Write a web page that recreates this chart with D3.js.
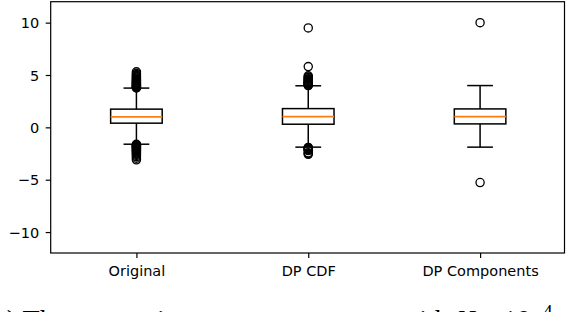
<!DOCTYPE html>
<html>
<head>
<meta charset="utf-8">
<script src="https://cdn.jsdelivr.net/npm/d3@7"></script>
<style>
  html, body { margin: 0; padding: 0; background: #fff; }
  svg { display: block; }
</style>
</head>
<body>
<svg id="chart" width="568" height="312"></svg>
<script>
// ---- data ----
const categories = ["Original", "DP CDF", "DP Components"];
const q1 = [0.40, 0.30, 0.33];
const medians = [1.00, 1.02, 1.02];
const q3 = [1.74, 1.79, 1.76];
const whiskerLow = [-1.61, -1.89, -1.89];
const whiskerHigh = [3.75, 3.97, 3.99];
const fliersOriginal = [3.76, 3.8, 3.84, 3.88, 3.92, 3.96, 4.0, 4.05, 4.1, 4.15, 4.2, 4.25, 4.3, 4.36, 4.42, 4.48, 4.55, 4.62, 4.7, 4.78, 4.86, 4.95, 5.04, 5.15, 5.3,
  -1.62, -1.66, -1.7, -1.74, -1.78, -1.82, -1.87, -1.92, -1.97, -2.02, -2.08, -2.14, -2.2, -2.27, -2.34, -2.42, -2.5, -2.58, -2.68, -2.8, -2.94, -3.1];
const fliersCDF = [3.99, 4.03, 4.07, 4.11, 4.16, 4.21, 4.26, 4.31, 4.37, 4.43, 4.5, 4.57, 4.65, 4.73, 4.82, 4.92, 5.8, 9.5,
  -1.92, -1.96, -2.0, -2.05, -2.1, -2.16, -2.22, -2.42, -2.5, -2.58];
const fliersComponents = [10.0, -5.27];
const yTicks = [-10, -5, 0, 5, 10];
const yDomain = [-12, 12];

const fliers = [fliersOriginal, fliersCDF, fliersComponents];

// ---- layout ----
const svg = d3.select("#chart");
const plotLeft = 50.7, plotRight = 564.5, plotTop = 1.7, plotBottom = 253;
const font = "'DejaVu Sans', sans-serif";

const x = d3.scaleLinear().domain([0.5, 3.5]).range([50.5, 566]);
const y = d3.scaleLinear().domain(yDomain).range([plotBottom, plotTop]);

const boxW = 0.3, capW = 0.15;

const g = svg.append("g");

categories.forEach((c, i) => {
  const p = i + 1;
  const cx = x(p);
  const lw = 1.5;
  g.append("line").attr("x1", cx).attr("x2", cx).attr("y1", y(q3[i])).attr("y2", y(whiskerHigh[i]))
    .attr("stroke", "#000").attr("stroke-width", lw);
  g.append("line").attr("x1", cx).attr("x2", cx).attr("y1", y(q1[i])).attr("y2", y(whiskerLow[i]))
    .attr("stroke", "#000").attr("stroke-width", lw);
  [whiskerHigh[i], whiskerLow[i]].forEach(v => {
    g.append("line").attr("x1", x(p - capW / 2)).attr("x2", x(p + capW / 2))
      .attr("y1", y(v)).attr("y2", y(v)).attr("stroke", "#000").attr("stroke-width", lw);
  });
  g.append("rect").attr("x", x(p - boxW / 2)).attr("y", y(q3[i]))
    .attr("width", x(p + boxW / 2) - x(p - boxW / 2)).attr("height", y(q1[i]) - y(q3[i]))
    .attr("fill", "none").attr("stroke", "#000").attr("stroke-width", lw);
  g.append("line").attr("x1", x(p - boxW / 2)).attr("x2", x(p + boxW / 2))
    .attr("y1", y(medians[i])).attr("y2", y(medians[i]))
    .attr("stroke", "#ff7f0e").attr("stroke-width", 1.9);
  g.selectAll(null).data(fliers[i]).enter().append("circle")
    .attr("cx", cx).attr("cy", d => y(d)).attr("r", 4.1)
    .attr("fill", "none").attr("stroke", "#000").attr("stroke-width", 1.3);
});

svg.append("rect").attr("x", plotLeft).attr("y", plotTop).attr("width", plotRight - plotLeft).attr("height", plotBottom - plotTop)
  .attr("fill", "none").attr("stroke", "#000").attr("stroke-width", 1.2);

const yAxis = svg.append("g").attr("transform", `translate(${plotLeft},0)`)
  .call(d3.axisLeft(y).tickValues(yTicks).tickSize(5).tickPadding(6.5).tickFormat(d3.format("d")));
yAxis.select(".domain").remove();
yAxis.selectAll(".tick line").attr("stroke-width", 1.2);
yAxis.selectAll(".tick text").attr("font-family", font).attr("font-size", 14.5).attr("fill", "#000").attr("dy", "0.36em");

const xAxis = svg.append("g").attr("transform", `translate(0,${plotBottom})`)
  .call(d3.axisBottom(x).tickValues([1, 2, 3]).tickSize(5).tickFormat((d, i) => categories[i]));
xAxis.select(".domain").remove();
xAxis.selectAll(".tick line").attr("stroke-width", 1.2);
xAxis.selectAll(".tick text").attr("font-family", font).attr("font-size", 14.5).attr("fill", "#000")
  .attr("y", 22.6).attr("dy", 0);

// caption of the source figure, cut off by the bottom edge as in the reference
const cap = svg.append("g").attr("font-family", "'Liberation Serif', 'Times New Roman', serif").attr("fill", "#000");
cap.append("text").attr("x", -16.6).attr("y", 329).attr("font-size", 28).text("(b) The comparison");
cap.append("text").attr("x", 399).attr("y", 329).attr("font-size", 28).text("with");
cap.append("text").attr("x", 456).attr("y", 329).attr("font-size", 28).attr("font-style", "italic").text("N");
cap.append("text").attr("x", 480).attr("y", 329).attr("font-size", 28).text(" = 10");
cap.append("text").attr("x", 543).attr("y", 318).attr("font-size", 19).text("4");
</script>
</body>
</html>
